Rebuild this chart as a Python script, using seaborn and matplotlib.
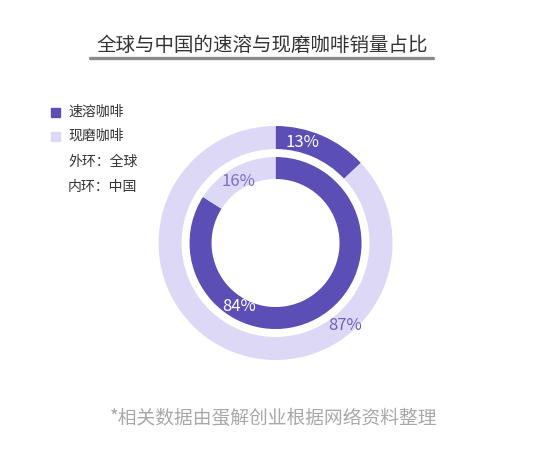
import numpy as np
import matplotlib
matplotlib.use("Agg")
import matplotlib.pyplot as plt
from matplotlib.lines import Line2D
import seaborn as sns

# 数据
segments = ["速溶咖啡", "现磨咖啡"]
global_share = [13, 87]   # 外环: 全球
china_share = [84, 16]    # 内环: 中国
legend_notes = ["外环：全球", "内环：中国"]
title = "全球与中国的速溶与现磨咖啡销量占比"
footnote = "*相关数据由蛋解创业根据网络资料整理"

DARK = "#5b4fb6"
LIGHT = "#dcd8f6"

sns.set_theme(style="white")
plt.rcParams["font.family"] = ["Noto Sans CJK SC", "DejaVu Sans"]

fig = plt.figure(figsize=(5.5, 4.61), dpi=100)
fig.patch.set_facecolor("white")

# 圆环图的坐标区：半径 1 对应约 117 像素
ax = fig.add_axes([0.235, 0.1556, 0.532, 0.6345])
colors = [DARK, LIGHT]
w_out, _ = ax.pie(global_share, radius=1.0, startangle=90, counterclock=False,
                  colors=colors, wedgeprops=dict(width=0.197, edgecolor="none"))
w_in, _ = ax.pie(china_share, radius=0.735, startangle=90, counterclock=False,
                 colors=colors, wedgeprops=dict(width=0.188, edgecolor="none"))
ax.set_xlim(-1.25, 1.25)
ax.set_ylim(-1.25, 1.25)
ax.set_aspect("equal")
ax.axis("off")

# 百分比标签 (角度, 半径, 颜色)
def put_label(val, ang, r, col):
    a = np.deg2rad(ang)
    ax.text(r * np.cos(a), r * np.sin(a), f"{val}%", ha="center", va="center",
            fontsize=12, color=col, fontweight="light")

put_label(global_share[0], 75, 0.885, "white")
put_label(global_share[1], -50, 0.92, "#6c62bb")
put_label(china_share[0], -120, 0.63, "white")
put_label(china_share[1], 121, 0.615, "#7a70c4")

# 标题与下划线
fig.text(0.477, 1 - 45 / 461, title, ha="center", va="center",
         fontsize=14, color="#333333")
fig.add_artist(Line2D([90 / 550, 433 / 550], [1 - 58.5 / 461, 1 - 58.5 / 461],
                      color="#8a8a8a", lw=2.4, transform=fig.transFigure))

# 图例
leg_y = [112, 136, 162, 187]
for i, name in enumerate(segments):
    y = 1 - leg_y[i] / 461
    fig.add_artist(plt.Rectangle((51 / 550, y - 4.5 / 461), 9 / 550, 9 / 461,
                                 color=colors[i], transform=fig.transFigure))
    fig.text(68 / 550, y, name, ha="left", va="center", fontsize=10, color="#333333")
for j, note in enumerate(legend_notes):
    y = 1 - leg_y[j + 2] / 461
    fig.text(68 / 550, y, note, ha="left", va="center", fontsize=10, color="#333333")

# 脚注
fig.text(274 / 550, 1 - 418 / 461, footnote, ha="center", va="center",
         fontsize=13.5, color="#a8a8a8")

fig.savefig("out.png", dpi=100, facecolor="white")
